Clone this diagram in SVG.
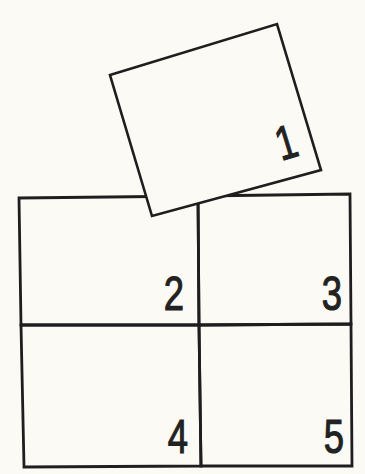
<svg xmlns="http://www.w3.org/2000/svg" width="365" height="474" viewBox="0 0 365 474">
  <style>
    .cell { fill: none; stroke: #1e1e1e; stroke-width: 2.8; stroke-linejoin: miter; }
    .sq { fill: #fcfaf4; stroke: #1e1e1e; stroke-width: 2.6; stroke-linejoin: miter; }
    .lbl { font-family: "Liberation Sans", Arial, sans-serif; font-size: 48px; fill: #222; stroke: #222; stroke-width: 1.1; }
  </style>
  <rect x="0" y="0" width="365" height="474" fill="#fcfaf4"/>
  <g id="cell2">
    <polygon class="cell" points="19,198 198,196 199,325 21,325"/>
    <text class="lbl" text-anchor="end" transform="translate(184,310) scale(0.76,1)">2</text>
  </g>
  <g id="cell3">
    <polygon class="cell" points="198,196 350,194 351,324 199,325"/>
    <text class="lbl" text-anchor="end" transform="translate(342,310) scale(0.76,1)">3</text>
  </g>
  <g id="cell4">
    <polygon class="cell" points="21,325 199,325 201,466 24,467"/>
    <text class="lbl" text-anchor="end" transform="translate(188,453) scale(0.76,1)">4</text>
  </g>
  <g id="cell5">
    <polygon class="cell" points="199,325 351,324 352,466 201,466"/>
    <text class="lbl" text-anchor="end" transform="translate(344,453) scale(0.76,1)">5</text>
  </g>
  <g id="square1">
    <polygon class="sq" points="110,75 277,24 321,170 152,216"/>
    <text class="lbl" text-anchor="middle" transform="translate(291,158) rotate(-17) scale(0.76,1)">1</text>
  </g>
  <g id="connectors"></g>
</svg>
